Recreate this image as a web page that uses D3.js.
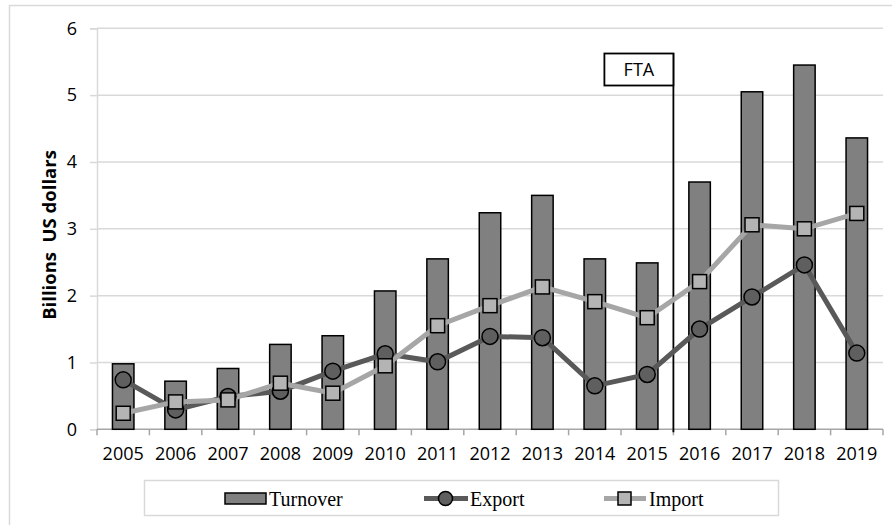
<!DOCTYPE html>
<html>
<head>
<meta charset="utf-8">
<script src="https://cdn.jsdelivr.net/npm/d3@7"></script>
<style>
  html, body { margin: 0; padding: 0; background: #fff; }
  svg { display: block; }
</style>
</head>
<body>
<svg id="chart" width="892" height="525"></svg>
<script>
// Trade between the partners, billions of US dollars
const years = ["2005","2006","2007","2008","2009","2010","2011","2012","2013","2014","2015","2016","2017","2018","2019"];
const turnover = [0.98, 0.72, 0.91, 1.27, 1.40, 2.07, 2.55, 3.24, 3.50, 2.55, 2.49, 3.70, 5.05, 5.45, 4.36];
const exportVals = [0.74, 0.29, 0.49, 0.57, 0.87, 1.13, 1.01, 1.39, 1.37, 0.65, 0.82, 1.50, 1.98, 2.46, 1.14];
const importVals = [0.24, 0.41, 0.44, 0.69, 0.54, 0.95, 1.55, 1.85, 2.13, 1.91, 1.67, 2.21, 3.06, 3.00, 3.23];
const yTicks = [0, 1, 2, 3, 4, 5, 6];
const ftaYear = "2016";
const legendItems = ["Turnover", "Export", "Import"];

const svg = d3.select("#chart");
const margin = { left: 97, right: 9, top: 28, bottom: 96 };
const W = 892, H = 525;

const x = d3.scaleBand().domain(years).range([margin.left, W - margin.right]).padding(0);
const y = d3.scaleLinear().domain([0, 6]).range([H - margin.bottom + 0.3, margin.top + 0.3]);

const tickFont = "'Open Sans', 'Liberation Sans', sans-serif";
const serif = "'Liberation Serif', 'DejaVu Serif', serif";

// outer frame
svg.append("rect")
  .attr("x", 9.5).attr("y", 5.5).attr("width", 900).attr("height", 600)
  .attr("fill", "none").attr("stroke", "#d9d9d9").attr("stroke-width", 1.5);

// horizontal gridlines
svg.append("g")
  .selectAll("line").data(yTicks.filter(d => d > 0)).join("line")
  .attr("x1", x.range()[0]).attr("x2", x.range()[1])
  .attr("y1", d => y(d)).attr("y2", d => y(d))
  .attr("stroke", "#d9d9d9").attr("stroke-width", 1.5);

// y axis
const yAxis = svg.append("g")
  .attr("transform", `translate(${margin.left},0)`)
  .call(d3.axisLeft(y).tickValues(yTicks).tickFormat(d3.format("d")).tickSize(7).tickPadding(13));
yAxis.select(".domain").attr("stroke", "#d9d9d9").attr("stroke-width", 1.5);
yAxis.selectAll(".tick line").attr("stroke", "#d9d9d9").attr("stroke-width", 1.5);
yAxis.selectAll(".tick text").attr("font-family", tickFont).attr("font-size", 18).attr("fill", "#000");

// x axis with ticks on category boundaries
const xAxisG = svg.append("g").attr("transform", `translate(0,${y(0)})`);
xAxisG.append("line")
  .attr("x1", x.range()[0]).attr("x2", x.range()[1])
  .attr("stroke", "#a6a6a6").attr("stroke-width", 1.5);
const bounds = years.map(d => x(d)).concat([x.range()[1]]);
xAxisG.selectAll("line.tk").data(bounds).join("line").attr("class", "tk")
  .attr("x1", d => d).attr("x2", d => d).attr("y1", 0).attr("y2", 6)
  .attr("stroke", "#a6a6a6").attr("stroke-width", 1.5);
xAxisG.selectAll("text").data(years).join("text")
  .attr("x", d => x(d) + x.bandwidth() / 2).attr("y", 31)
  .attr("text-anchor", "middle")
  .attr("font-family", tickFont).attr("font-size", 18).attr("fill", "#000")
  .text(d => d);

// y axis title
svg.append("text")
  .attr("transform", `translate(56,235) rotate(-90)`)
  .attr("text-anchor", "middle")
  .attr("font-family", tickFont).attr("font-size", 18.5).attr("font-weight", "bold")
  .attr("fill", "#000")
  .attr("xml:space", "preserve")
  .text("Billions  US dollars");

// turnover bars
const barW = x.bandwidth() * 0.41;
svg.append("g").selectAll("rect").data(years).join("rect")
  .attr("x", (d) => x(d) + (x.bandwidth() - barW) / 2)
  .attr("y", (d, i) => y(turnover[i]))
  .attr("width", barW)
  .attr("height", (d, i) => y(0) - y(turnover[i]))
  .attr("fill", "#808080").attr("stroke", "#000").attr("stroke-width", 1.5);

// FTA marker
const ftaX = x(ftaYear);
svg.append("line")
  .attr("x1", ftaX).attr("x2", ftaX).attr("y1", 53).attr("y2", y(0) + 3)
  .attr("stroke", "#000").attr("stroke-width", 1.8);
svg.append("rect")
  .attr("x", ftaX - 69).attr("y", 53.5).attr("width", 69).attr("height", 32)
  .attr("fill", "#fff").attr("stroke", "#000").attr("stroke-width", 1.8);
svg.append("text")
  .attr("x", ftaX - 34.5).attr("y", 76)
  .attr("text-anchor", "middle")
  .attr("font-family", tickFont).attr("font-size", 18).attr("fill", "#000")
  .text("FTA");

const cx = d => x(d) + x.bandwidth() / 2;

// export line + circles
const exportColor = "#595959";
const importColor = "#a6a6a6";
svg.append("path")
  .datum(exportVals)
  .attr("d", d3.line().x((d, i) => cx(years[i])).y(d => y(d)))
  .attr("fill", "none").attr("stroke", exportColor).attr("stroke-width", 5);

// import line
svg.append("path")
  .datum(importVals)
  .attr("d", d3.line().x((d, i) => cx(years[i])).y(d => y(d)))
  .attr("fill", "none").attr("stroke", importColor).attr("stroke-width", 5);

svg.append("g").selectAll("circle").data(exportVals).join("circle")
  .attr("cx", (d, i) => cx(years[i])).attr("cy", d => y(d)).attr("r", 8)
  .attr("fill", "#5f5f5f").attr("stroke", "#000").attr("stroke-width", 1.5);

const sq = 14;
svg.append("g").selectAll("rect").data(importVals).join("rect")
  .attr("x", (d, i) => cx(years[i]) - sq / 2).attr("y", d => y(d) - sq / 2)
  .attr("width", sq).attr("height", sq)
  .attr("fill", "#b4b4b4").attr("stroke", "#000").attr("stroke-width", 1.5);

// legend
const lg = svg.append("g");
lg.append("rect")
  .attr("x", 144.5).attr("y", 480.5).attr("width", 634).attr("height", 35)
  .attr("fill", "#fff").attr("stroke", "#d9d9d9").attr("stroke-width", 1.5);
const ly = 498.5;
lg.append("rect").attr("x", 225).attr("y", 493).attr("width", 41).attr("height", 11)
  .attr("fill", "#808080").attr("stroke", "#000").attr("stroke-width", 1.5);
lg.append("line").attr("x1", 424).attr("x2", 468).attr("y1", ly).attr("y2", ly)
  .attr("stroke", exportColor).attr("stroke-width", 5);
lg.append("circle").attr("cx", 445.5).attr("cy", ly).attr("r", 7)
  .attr("fill", "#5f5f5f").attr("stroke", "#000").attr("stroke-width", 1.5);
lg.append("line").attr("x1", 604).attr("x2", 646).attr("y1", ly).attr("y2", ly)
  .attr("stroke", importColor).attr("stroke-width", 5);
lg.append("rect").attr("x", 618).attr("y", ly - 6.5).attr("width", 13).attr("height", 13)
  .attr("fill", "#b4b4b4").attr("stroke", "#000").attr("stroke-width", 1.5);
const legendX = [269, 470, 649];
lg.selectAll("text.lt").data(legendItems).join("text").attr("class", "lt")
  .attr("x", (d, i) => legendX[i]).attr("y", 505.5)
  .attr("font-family", serif).attr("font-size", 20).attr("fill", "#000")
  .text(d => d);
</script>
</body>
</html>
